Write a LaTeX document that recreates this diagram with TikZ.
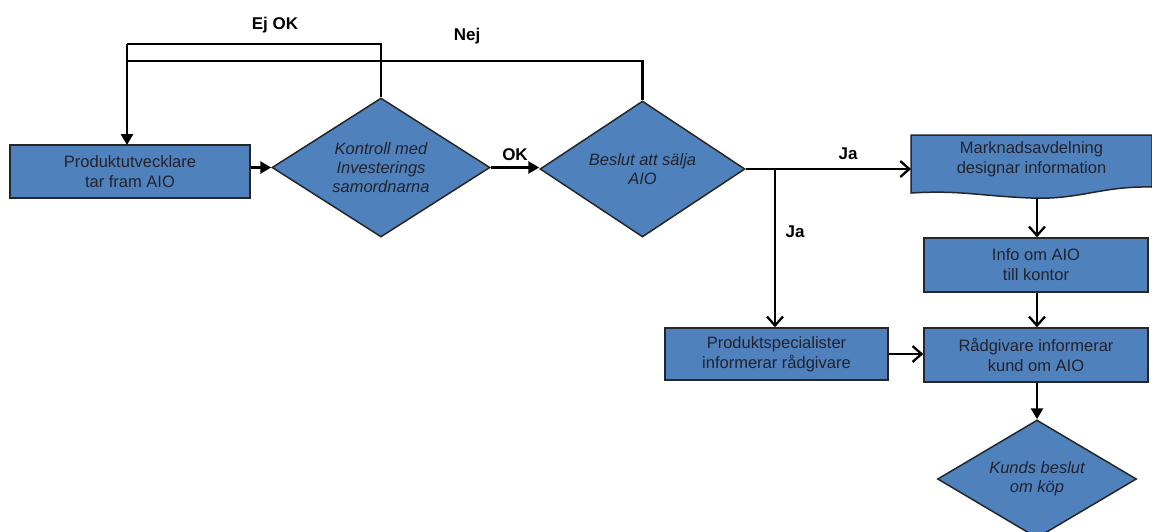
\documentclass[tikz,border=0pt]{standalone}
\usepackage{fontspec}
\setmainfont{Liberation Sans}
\usetikzlibrary{shapes.geometric,arrows.meta}
\definecolor{boxblue}{RGB}{79,129,189}
\definecolor{boxtext}{RGB}{35,35,45}
\begin{document}
\begin{tikzpicture}[x=1pt,y=-1pt,
  procbox/.style={draw=black!85,line width=1.5pt,fill=boxblue,text=boxtext,align=center,
    font=\fontsize{16.5}{20}\selectfont,inner sep=0pt},
  decbox/.style={diamond,draw=black!85,line width=1.5pt,fill=boxblue,text=boxtext,align=center,
    font=\fontsize{16.5}{19}\selectfont\itshape,inner sep=0pt},
  conn/.style={line width=2.7pt,draw=black},
  filledtip/.style={-{Triangle[length=11pt,width=12pt]}},
  opentip/.style={-{Straight Barb[length=9pt,width=16pt,line width=2.3pt]}},
  lbl/.style={font=\fontsize{17}{20}\selectfont\bfseries,text=black}]
\useasboundingbox (0,0) rectangle (1152,531);

\node[procbox,minimum width=240,minimum height=53] (p1) at (130,171.5) {Produktutvecklare\\tar fram AIO};
\node[decbox,aspect=1.6,minimum width=218,minimum height=139] (d1) at (381,167.5) {Kontroll med\\Investerings\\samordnarna};
\node[decbox,aspect=1.5,minimum width=205,minimum height=136] (d2) at (642.5,169) {Beslut att sälja\\AIO};

% Marknadsavdelning document shape
\path[draw=black!85,line width=1.5pt,fill=boxblue]
  (911,135) -- (1152,135) -- (1152,187)
  .. controls (1100,186) and (1080,200) .. (1031,198)
  .. controls (980,196) and (960,190) .. (911,193) -- cycle;
\node[procbox,draw=none,fill=none,minimum width=241,minimum height=50] (mk) at (1031.5,159) {Marknadsavdelning\\designar information};
\coordinate (mkbot) at (1037,198);
\coordinate (mkleft) at (911,169);

\node[procbox,minimum width=224,minimum height=54] (info) at (1036,265) {Info om AIO\\till kontor};
\node[procbox,minimum width=223,minimum height=52] (ps) at (776.5,354) {Produktspecialister\\informerar rådgivare};
\node[procbox,minimum width=224,minimum height=54] (rg) at (1036,355) {Rådgivare informerar\\kund om AIO};
\node[decbox,aspect=1.7,minimum width=199,minimum height=118] (kb) at (1037,479) {Kunds beslut\\om köp};

% connectors
\draw[conn,filledtip] (p1.east |- d1.west) -- (d1.west);
\draw[conn,filledtip] (d1.east) -- (d2.west |- d1.east) node[lbl,midway,above=2pt] {OK};

\coordinate (ejtop) at (127,44);
\coordinate (nejtop) at (127,61);
\coordinate (p1top) at (127,145);
\draw[conn] (d1.north) |- (ejtop);
\draw[conn,filledtip] (ejtop) -- (p1top);
\draw[conn] (d2.north) |- (nejtop);
\node[lbl] (ejok) at (275,25) {Ej OK};
\node[lbl] (nej) at (467,36) {Nej};

\coordinate (split) at (775,169);
\draw[conn] (d2.east) -- (split);
\draw[conn,opentip] (split) -- (mkleft);
\draw[conn,opentip] (split) -- (ps.north -| split);
\node[lbl] (ja1) at (848,154) {Ja};
\node[lbl] (ja2) at (795,232) {Ja};

\draw[conn,opentip] (mkbot) -- (info.north -| mkbot);
\draw[conn,opentip] (info.south -| mkbot) -- (rg.north -| mkbot);
\draw[conn,opentip] (ps.east) -- (ps.east -| rg.west);
\draw[conn,filledtip] (rg.south -| kb.north) -- (kb.north);
\end{tikzpicture}
\end{document}
